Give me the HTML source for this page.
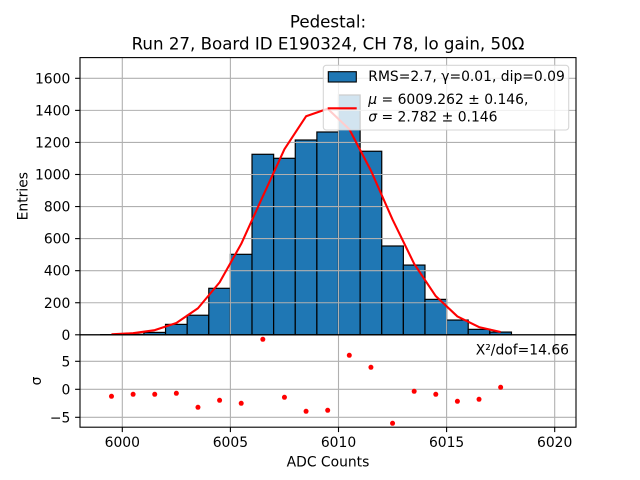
<!DOCTYPE html>
<html><head><meta charset="utf-8"><style>
html,body{margin:0;padding:0;background:#fff;}
svg{display:block;}
text{font-family:"DejaVu Sans","Liberation Sans",sans-serif;fill:#000;}
</style></head><body>
<svg width="640" height="480" viewBox="0 0 640 480" xmlns="http://www.w3.org/2000/svg">
<rect x="0" y="0" width="640" height="480" fill="#fff"/>
<!-- Title -->
<text x="328" y="27.3" font-size="16.67" text-anchor="middle">Pedestal:</text>
<text x="328" y="49.3" font-size="16.67" text-anchor="middle">Run 27, Board ID E190324, CH 78, lo gain, 50Ω</text>

<!-- Top axes bars -->
<g fill="#1f77b4" stroke="#000" stroke-width="1.2">
<rect x="100.68" y="334.64" width="21.62" height="0.16"/>
<rect x="122.30" y="334.32" width="21.62" height="0.48"/>
<rect x="143.92" y="332.40" width="21.62" height="2.40"/>
<rect x="165.54" y="324.38" width="21.62" height="10.42"/>
<rect x="187.16" y="315.24" width="21.62" height="19.56"/>
<rect x="208.78" y="288.31" width="21.62" height="46.49"/>
<rect x="230.40" y="254.32" width="21.62" height="80.48"/>
<rect x="252.02" y="154.29" width="21.62" height="180.51"/>
<rect x="273.64" y="158.30" width="21.62" height="176.50"/>
<rect x="295.26" y="140.02" width="21.62" height="194.78"/>
<rect x="316.88" y="132.01" width="21.62" height="202.79"/>
<rect x="338.50" y="94.98" width="21.62" height="239.82"/>
<rect x="360.12" y="151.25" width="21.62" height="183.55"/>
<rect x="381.74" y="246.00" width="21.62" height="88.80"/>
<rect x="403.36" y="265.07" width="21.62" height="69.73"/>
<rect x="424.98" y="299.37" width="21.62" height="35.43"/>
<rect x="446.60" y="320.05" width="21.62" height="14.75"/>
<rect x="468.22" y="329.35" width="21.62" height="5.45"/>
<rect x="489.84" y="332.07" width="21.62" height="2.73"/>
</g>

<!-- Top grid -->
<g stroke="#b0b0b0" stroke-width="1.1">
<line x1="122.3" y1="57.6" x2="122.3" y2="334.8"/>
<line x1="230.4" y1="57.6" x2="230.4" y2="334.8"/>
<line x1="338.5" y1="57.6" x2="338.5" y2="334.8"/>
<line x1="446.6" y1="57.6" x2="446.6" y2="334.8"/>
<line x1="554.7" y1="57.6" x2="554.7" y2="334.8"/>
<line x1="80" y1="302.74" x2="576" y2="302.74"/>
<line x1="80" y1="270.68" x2="576" y2="270.68"/>
<line x1="80" y1="238.61" x2="576" y2="238.61"/>
<line x1="80" y1="206.55" x2="576" y2="206.55"/>
<line x1="80" y1="174.49" x2="576" y2="174.49"/>
<line x1="80" y1="142.43" x2="576" y2="142.43"/>
<line x1="80" y1="110.37" x2="576" y2="110.37"/>
<line x1="80" y1="78.30" x2="576" y2="78.30"/>
</g>

<!-- Fit line -->
<polyline fill="none" stroke="#ff0000" stroke-width="2.08" stroke-linejoin="round" points="111.49,334.32 133.11,333.21 154.73,330.17 176.35,322.99 197.97,308.24 219.59,282.38 241.21,243.90 262.83,196.29 284.45,149.16 306.07,116.29 327.69,108.76 349.31,129.28 370.93,170.64 392.55,219.54 414.17,263.78 435.79,296.17 457.41,316.43 479.03,327.10 500.65,331.96"/>

<!-- Bottom grid -->
<g stroke="#b0b0b0" stroke-width="1.1">
<line x1="122.3" y1="334.8" x2="122.3" y2="427.2"/>
<line x1="230.4" y1="334.8" x2="230.4" y2="427.2"/>
<line x1="338.5" y1="334.8" x2="338.5" y2="427.2"/>
<line x1="446.6" y1="334.8" x2="446.6" y2="427.2"/>
<line x1="554.7" y1="334.8" x2="554.7" y2="427.2"/>
<line x1="80" y1="361.3" x2="576" y2="361.3"/>
<line x1="80" y1="389.3" x2="576" y2="389.3"/>
<line x1="80" y1="417.3" x2="576" y2="417.3"/>
</g>

<!-- Pull dots -->
<g fill="#ff0000">
<circle cx="111.49" cy="396.3" r="2.5"/>
<circle cx="133.11" cy="394.3" r="2.5"/>
<circle cx="154.73" cy="394.3" r="2.5"/>
<circle cx="176.35" cy="393.3" r="2.5"/>
<circle cx="197.97" cy="407.3" r="2.5"/>
<circle cx="219.59" cy="400.3" r="2.5"/>
<circle cx="241.21" cy="403.3" r="2.5"/>
<circle cx="262.83" cy="339.3" r="2.5"/>
<circle cx="284.45" cy="397.3" r="2.5"/>
<circle cx="306.07" cy="411.3" r="2.5"/>
<circle cx="327.69" cy="410.3" r="2.5"/>
<circle cx="349.31" cy="355.3" r="2.5"/>
<circle cx="370.93" cy="367.3" r="2.5"/>
<circle cx="392.55" cy="423.3" r="2.5"/>
<circle cx="414.17" cy="391.3" r="2.5"/>
<circle cx="435.79" cy="394.3" r="2.5"/>
<circle cx="457.41" cy="401.3" r="2.5"/>
<circle cx="479.03" cy="399.3" r="2.5"/>
<circle cx="500.65" cy="387.3" r="2.5"/>
</g>

<!-- chi2 text -->
<text x="569" y="354.3" font-size="13.89" text-anchor="end">X²/dof=14.66</text>

<!-- Spines -->
<g fill="none" stroke="#000" stroke-width="1.1">
<rect x="80" y="57.6" width="496" height="277.2"/>
<rect x="80" y="334.8" width="496" height="92.4"/>
</g>

<!-- Ticks -->
<g stroke="#000" stroke-width="1.1">
<line x1="75.1" y1="334.8" x2="80" y2="334.8"/>
<line x1="75.1" y1="302.74" x2="80" y2="302.74"/>
<line x1="75.1" y1="270.68" x2="80" y2="270.68"/>
<line x1="75.1" y1="238.61" x2="80" y2="238.61"/>
<line x1="75.1" y1="206.55" x2="80" y2="206.55"/>
<line x1="75.1" y1="174.49" x2="80" y2="174.49"/>
<line x1="75.1" y1="142.43" x2="80" y2="142.43"/>
<line x1="75.1" y1="110.37" x2="80" y2="110.37"/>
<line x1="75.1" y1="78.30" x2="80" y2="78.30"/>
<line x1="75.1" y1="361.3" x2="80" y2="361.3"/>
<line x1="75.1" y1="389.3" x2="80" y2="389.3"/>
<line x1="75.1" y1="417.3" x2="80" y2="417.3"/>
<line x1="122.3" y1="427.2" x2="122.3" y2="432.1"/>
<line x1="230.4" y1="427.2" x2="230.4" y2="432.1"/>
<line x1="338.5" y1="427.2" x2="338.5" y2="432.1"/>
<line x1="446.6" y1="427.2" x2="446.6" y2="432.1"/>
<line x1="554.7" y1="427.2" x2="554.7" y2="432.1"/>
</g>

<!-- Tick labels -->
<g font-size="13.89" text-anchor="end">
<text x="70.3" y="339.85">0</text>
<text x="70.3" y="307.79">200</text>
<text x="70.3" y="275.73">400</text>
<text x="70.3" y="243.66">600</text>
<text x="70.3" y="211.6">800</text>
<text x="70.3" y="179.54">1000</text>
<text x="70.3" y="147.48">1200</text>
<text x="70.3" y="115.42">1400</text>
<text x="70.3" y="83.35">1600</text>
<text x="70.3" y="366.35">5</text>
<text x="70.3" y="394.35">0</text>
<text x="70.3" y="422.35">−5</text>
</g>
<g font-size="13.89" text-anchor="middle">
<text x="122.3" y="447">6000</text>
<text x="230.4" y="447">6005</text>
<text x="338.5" y="447">6010</text>
<text x="446.6" y="447">6015</text>
<text x="554.7" y="447">6020</text>
</g>

<!-- Axis labels -->
<text x="328" y="466.5" font-size="13.89" text-anchor="middle">ADC Counts</text>
<text transform="translate(27.5,196.2) rotate(-90)" font-size="13.89" text-anchor="middle">Entries</text>
<text transform="translate(41,381) rotate(-90)" font-size="13.89" text-anchor="middle">σ</text>

<!-- Legend -->
<rect x="323.3" y="65.3" width="245.4" height="64.7" rx="3" ry="3" fill="#fff" fill-opacity="0.8" stroke="#cccccc" stroke-opacity="0.8" stroke-width="1.1"/>
<rect x="328.3" y="71.7" width="28" height="10.3" fill="#1f77b4" stroke="#000" stroke-width="1.1"/>
<line x1="327.7" y1="108.3" x2="356.7" y2="108.3" stroke="#ff0000" stroke-width="2.08"/>
<text x="368.3" y="81" font-size="13.89">RMS=2.7, γ=0.01, dip=0.09</text>
<text x="368.3" y="104" font-size="13.89"><tspan font-style="italic">μ</tspan> = 6009.262 ± 0.146,</text>
<text x="368.3" y="121.7" font-size="13.89"><tspan font-style="italic">σ</tspan> = 2.782 ± 0.146</text>
</svg>
</body></html>
